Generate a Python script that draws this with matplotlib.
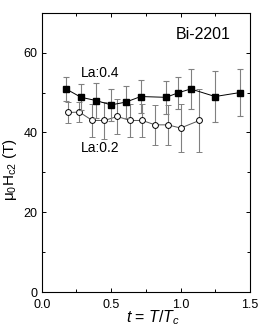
import matplotlib
matplotlib.use('Agg')
import matplotlib.pyplot as plt
from matplotlib.ticker import MultipleLocator

plt.rcParams['font.family'] = ['Liberation Sans', 'DejaVu Sans']
plt.rcParams['mathtext.fontset'] = 'custom'
plt.rcParams['mathtext.rm'] = 'Liberation Sans'
plt.rcParams['mathtext.it'] = 'Liberation Sans:italic'

# La:0.4 (filled squares)
t04 = [0.175, 0.283, 0.391, 0.499, 0.605, 0.713, 0.895, 0.979, 1.073, 1.248, 1.428]
h04 = [50.9, 48.8, 48.0, 46.9, 47.6, 49.0, 48.8, 49.9, 50.9, 49.0, 50.0]
e04 = [2.9, 3.3, 4.4, 4.0, 4.0, 4.2, 4.2, 4.0, 5.0, 6.3, 6.0]

# La:0.2 (open circles)
t02 = [0.192, 0.271, 0.364, 0.451, 0.544, 0.636, 0.724, 0.816, 0.907, 1.000, 1.135]
h02 = [45.0, 45.1, 43.0, 43.0, 44.0, 43.0, 43.0, 41.9, 41.9, 41.1, 43.0]
e02 = [2.7, 2.5, 4.2, 4.6, 4.3, 4.2, 4.2, 5.0, 5.0, 6.0, 8.0]

fig = plt.figure(figsize=(2.73, 3.27), dpi=100)
ax = fig.add_axes([0.153, 0.107, 0.763, 0.854])

ax.errorbar(t04, h04, yerr=e04, fmt='s-', color='black', ms=4, lw=0.7,
            ecolor='#808080', elinewidth=0.8, capsize=2, capthick=0.8, zorder=3)
ax.errorbar(t02, h02, yerr=e02, fmt='o-', color='#555555', mfc='white', mec='black',
            ms=4.2, mew=0.7, lw=0.7, ecolor='#808080', elinewidth=0.8, capsize=2,
            capthick=0.8, zorder=2)

ax.set_xlim(0, 1.5)
ax.set_ylim(0, 70)
ax.xaxis.set_major_locator(MultipleLocator(0.5))
ax.xaxis.set_minor_locator(MultipleLocator(0.25))
ax.yaxis.set_major_locator(MultipleLocator(20))
ax.yaxis.set_minor_locator(MultipleLocator(10))
ax.tick_params(which='both', direction='in', top=True, right=True, labelsize=9)
ax.tick_params(axis='x', pad=5)
ax.tick_params(axis='y', pad=3)
ax.tick_params(which='major', length=3, width=0.7)
ax.tick_params(which='minor', length=2, width=0.7)
ax.xaxis.set_major_formatter(plt.FuncFormatter(lambda v, p: '%.1f' % v))
for s in ax.spines.values():
    s.set_linewidth(0.8)

ax.text(1.161, 64.5, 'Bi-2201', fontsize=11.5, ha='center', va='center')
ax.text(0.42, 55, 'La:0.4', fontsize=10, ha='center', va='center')
ax.text(0.42, 36, 'La:0.2', fontsize=10, ha='center', va='center')

ax.set_ylabel(r'$\mathregular{\mu_0H_{c2}}$ (T)', fontsize=11)
ax.yaxis.set_label_coords(-0.11, 0.44)
ax.set_xlabel(r'$t$ = $T/T_c$', fontsize=11.5)
ax.xaxis.set_label_coords(0.535, -0.06)

fig.savefig('out.png', dpi=100)
